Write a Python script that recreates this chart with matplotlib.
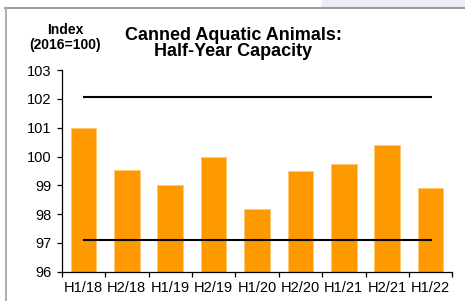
import matplotlib.pyplot as plt
import numpy as np
from matplotlib.patches import Rectangle
from matplotlib.lines import Line2D

plt.rcParams["font.family"] = ["Liberation Sans", "DejaVu Sans"]

# Data
periods = ["H1/18", "H2/18", "H1/19", "H2/19", "H1/20", "H2/20", "H1/21", "H2/21", "H1/22"]
capacity = [101.0, 99.52, 99.0, 100.0, 98.17, 99.48, 99.73, 100.41, 98.9]
upper_ref = 102.07
lower_ref = 97.09
yticks = [96, 97, 98, 99, 100, 101, 102, 103]

fig = plt.figure(figsize=(4.65, 3.01), dpi=100)
fig.patch.set_facecolor("white")

# page frame: lavender strip, gray top and left rules
fig.patches.append(Rectangle((322 / 465, 1 - 7 / 301), 1 - 322 / 465, 7 / 301,
                             transform=fig.transFigure, color="#ECECF6", zorder=0))
fig.lines.append(Line2D([5 / 465, 1], [1 - 7.5 / 301, 1 - 7.5 / 301],
                        transform=fig.transFigure, color="#9A9A9A", lw=1.5))
fig.lines.append(Line2D([5.7 / 465, 5.7 / 465], [0, 1 - 7.5 / 301],
                        transform=fig.transFigure, color="#B0B0B0", lw=1.5))

ax = fig.add_axes([61.7 / 465, 1 - 271.7 / 301, (452.3 - 61.7) / 465, 201.6 / 301])

x = np.arange(len(periods))
ax.bar(x, capacity, width=0.59, color="#FF9900", edgecolor="#FFC870", linewidth=0.6, zorder=2)
ax.hlines([upper_ref, lower_ref], -0.02, 8.03, colors="black", linewidth=1.5, zorder=3)

ax.set_xlim(-0.5, len(periods) - 0.5)
ax.set_ylim(96, 103)
ax.set_yticks(yticks)
ax.set_xticks(x)
ax.set_xticklabels(periods)
ax.set_xticks(np.arange(len(periods) + 1) - 0.5, minor=True)

ax.tick_params(axis="x", which="major", length=0, pad=7, labelsize=10.5)
ax.tick_params(axis="x", which="minor", length=3.5, width=0.9, direction="out")
ax.tick_params(axis="y", length=3.5, width=0.9, pad=4, labelsize=10.5)

for side in ["top", "right"]:
    ax.spines[side].set_visible(False)
for side in ["left", "bottom"]:
    ax.spines[side].set_linewidth(0.9)

fig.text(233 / 465, 1 - 35 / 301, "Canned Aquatic Animals:", ha="center", va="center",
         fontsize=13, fontweight="bold")
fig.text(233 / 465, 1 - 52 / 301, "Half-Year Capacity", ha="center", va="center",
         fontsize=13, fontweight="bold")
fig.text(65 / 465, 1 - 30 / 301, "Index", ha="center", va="center",
         fontsize=10, fontweight="bold")
fig.text(65 / 465, 1 - 45 / 301, "(2016=100)", ha="center", va="center",
         fontsize=10, fontweight="bold")

plt.savefig("out.png", dpi=100)
